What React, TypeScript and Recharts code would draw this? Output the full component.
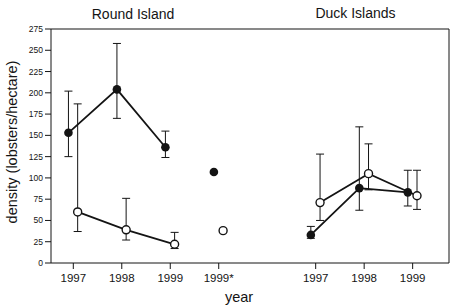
import { ScatterChart, Scatter, XAxis, YAxis, ErrorBar, ReferenceLine } from "recharts";

const FONT = "'Liberation Sans', Arial, Helvetica, sans-serif";
const INK = "#141414";

// x positions of the year ticks (gap between the two islands)
const tickPositions = [0, 1, 2, 3, 5, 6, 7];
const tickLabels = ["1997", "1998", "1999", "1999*", "1997", "1998", "1999"];
const yTicks = [0, 25, 50, 75, 100, 125, 150, 175, 200, 225, 250, 275];

// Round Island
const roundX = [0, 1, 2];
const roundFilled = [153, 204, 136];
const roundFilledLow = [125, 170, 124];
const roundFilledHigh = [202, 258, 155];
const roundOpen = [60, 39, 22];
const roundOpenLow = [37, 27, 17];
const roundOpenHigh = [187, 76, 36];

// Round Island, 1999*
const starX = [3];
const starFilled = [107];
const starOpen = [38];

// Duck Islands
const duckX = [5, 6, 7];
const duckFilled = [33, 88, 83];
const duckFilledLow = [29, 62, 67];
const duckFilledHigh = [43, 160, 109];
const duckOpen = [71, 105, 79];
const duckOpenLow = [50, 86, 63];
const duckOpenHigh = [128, 140, 109];

const FILLED_DX = -0.1;
const OPEN_DX = 0.09;

const points = (xs: number[], ys: number[], dx: number, lows?: number[], highs?: number[]) =>
  xs.map((x, i) => ({
    x: x + dx,
    y: ys[i],
    err: lows && highs ? [ys[i] - lows[i], highs[i] - ys[i]] : [0, 0],
  }));

const FilledDot = (props: any) => (
  <circle cx={props.cx} cy={props.cy} r={4.3} fill={INK} />
);
const OpenDot = (props: any) => (
  <circle cx={props.cx} cy={props.cy} r={4} fill="#fff" stroke={INK} strokeWidth={1.4} />
);

const lineStyle = { stroke: INK, strokeWidth: 1.8 };

export default function App() {
  return (
    <div style={{ position: "relative", width: 453, height: 305, background: "#fff", fontFamily: FONT }}>
      <style>{`body{margin:0}`}</style>
      <ScatterChart width={453} height={305} margin={{ top: 29, right: 0, bottom: 0, left: 0 }}>
        <XAxis
          type="number"
          dataKey="x"
          domain={[-0.46, 7.75]}
          ticks={tickPositions}
          tickFormatter={(v: number) => tickLabels[tickPositions.indexOf(v)] ?? ""}
          interval={0}
          height={42}
          tickSize={6}
          tickMargin={5}
          stroke={INK}
          tick={{ fontSize: 11.5, fill: INK, fontFamily: FONT }}
        />
        <YAxis
          type="number"
          dataKey="y"
          domain={[0, 275]}
          ticks={yTicks}
          interval={0}
          width={51}
          tickSize={6}
          tickMargin={2}
          stroke={INK}
          tick={{ fontSize: 8.5, fill: INK, fontFamily: FONT }}
        />
        <YAxis
          yAxisId="r"
          orientation="right"
          type="number"
          domain={[0, 275]}
          ticks={yTicks}
          interval={0}
          width={4}
          tickSize={5}
          tick={false}
          stroke={INK}
        />
        <ReferenceLine y={275} stroke={INK} strokeWidth={1.2} />

        <Scatter data={points(roundX, roundFilled, FILLED_DX, roundFilledLow, roundFilledHigh)} line={lineStyle} lineType="joint" shape={FilledDot} isAnimationActive={false}>
          <ErrorBar dataKey="err" direction="y" width={4} stroke={INK} strokeWidth={1} isAnimationActive={false} />
        </Scatter>
        <Scatter data={points(roundX, roundOpen, OPEN_DX, roundOpenLow, roundOpenHigh)} line={lineStyle} lineType="joint" shape={OpenDot} isAnimationActive={false}>
          <ErrorBar dataKey="err" direction="y" width={4} stroke={INK} strokeWidth={1} isAnimationActive={false} />
        </Scatter>
        <Scatter data={points(starX, starFilled, FILLED_DX)} shape={FilledDot} isAnimationActive={false} />
        <Scatter data={points(starX, starOpen, OPEN_DX)} shape={OpenDot} isAnimationActive={false} />
        <Scatter data={points(duckX, duckFilled, FILLED_DX, duckFilledLow, duckFilledHigh)} line={lineStyle} lineType="joint" shape={FilledDot} isAnimationActive={false}>
          <ErrorBar dataKey="err" direction="y" width={4} stroke={INK} strokeWidth={1} isAnimationActive={false} />
        </Scatter>
        <Scatter data={points(duckX, duckOpen, OPEN_DX, duckOpenLow, duckOpenHigh)} line={lineStyle} lineType="joint" shape={OpenDot} isAnimationActive={false}>
          <ErrorBar dataKey="err" direction="y" width={4} stroke={INK} strokeWidth={1} isAnimationActive={false} />
        </Scatter>
      </ScatterChart>

      <div style={{ position: "absolute", left: 133, top: 13.5, transform: "translate(-50%,-50%)", fontSize: 14, color: INK, whiteSpace: "nowrap" }}>
        Round Island
      </div>
      <div style={{ position: "absolute", left: 355.5, top: 13, transform: "translate(-50%,-50%)", fontSize: 14, color: INK, whiteSpace: "nowrap" }}>
        Duck Islands
      </div>
      <div style={{ position: "absolute", left: 239, top: 297, transform: "translate(-50%,-50%)", fontSize: 14.5, color: INK, whiteSpace: "nowrap" }}>
        year
      </div>
      <div style={{ position: "absolute", left: 11.5, top: 141.5, transform: "translate(-50%,-50%) rotate(-90deg)", fontSize: 14.5, color: INK, whiteSpace: "nowrap" }}>
        density (lobsters/hectare)
      </div>
    </div>
  );
}
